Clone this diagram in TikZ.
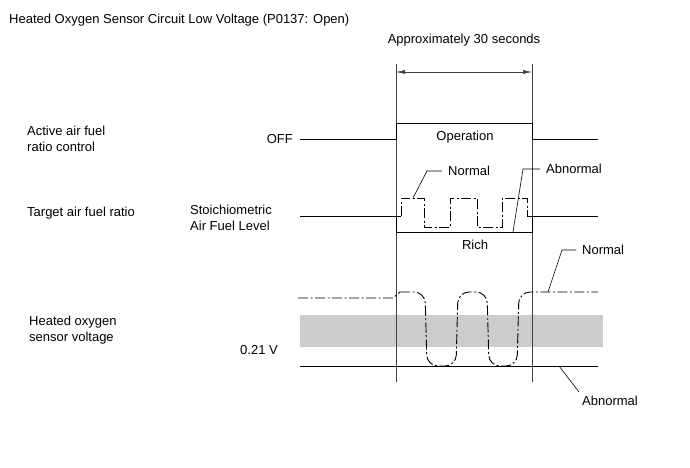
\documentclass[tikz,border=0pt]{standalone}
\usepackage{fontspec}
\setmainfont{Liberation Sans}
\usetikzlibrary{arrows.meta}
\tikzset{
  lbl/.style={inner sep=0pt, align=left},
  tag/.style={inner xsep=6pt, inner ysep=0pt, anchor=west},
  sig/.style={line width=0.9pt},
  dashdot/.style={line width=0.9pt, dash pattern=on 10pt off 2.5pt on 2pt off 2.5pt},
  grid/.style={line width=0.5pt, black!75},
  lead/.style={line width=0.6pt}
}
\begin{document}
\begin{tikzpicture}[x=1pt,y=-1pt,font=\fontsize{13}{16}\selectfont]
\useasboundingbox (0,0) rectangle (690,467);
\fill[black!20] (300,315) rectangle (603,347);
\node[lbl, anchor=west] (title) at (9,20) {Heated Oxygen Sensor Circuit Low Voltage (P0137: Open)};
\node[lbl] (approx) at (464,40) {Approximately 30 seconds};
\node[lbl, anchor=west] (activelbl) at (27,139) {Active air fuel\\ratio control};
\node[lbl, anchor=west] (targetlbl) at (27,213) {Target air fuel ratio};
\node[lbl, anchor=west] (sensorlbl) at (29,330) {Heated oxygen\\sensor voltage};
\node[lbl, anchor=east] (offlbl) at (293,139) {OFF};
\node[lbl, anchor=west] (stoichlbl) at (190,218) {Stoichiometric\\Air Fuel Level};
\node[lbl, anchor=west] (voltlbl) at (240,350) {0.21 V};
\node[lbl] (oplbl) at (465,137) {Operation};
\node[lbl] (richlbl) at (475,245) {Rich};
\node[tag] (normal1) at (442,171) {Normal};
\node[tag] (abnormal1) at (540,169) {Abnormal};
\node[tag] (normal2) at (576,250) {Normal};
\node[lbl, anchor=north west] (abnormal2) at (582,396) {Abnormal};
\coordinate (gl0) at (396,64);
\coordinate (gl1) at (396,382);
\coordinate (gr0) at (532,64);
\coordinate (gr1) at (532,382);
\coordinate (al) at (396,72);
\coordinate (ar) at (532,72);
\draw[grid] (gl0) -- (gl1);
\draw[grid] (gr0) -- (gr1);
\draw[grid, {Latex[length=9pt,width=4pt]}-{Latex[length=9pt,width=4pt]}] (al) -- (ar);
\draw[sig] (300,139) -- (396,139) -- (396,123) -- (532,123) -- (532,139) -- (598,139);
\draw[sig] (300,216) -- (401,216);
\draw[sig] (396,216) -- (396,232) -- (532,232) -- (532,216);
\draw[sig] (527,216) -- (598,216);
\draw[dashdot] (401,216) -- (401,198) -- (424,198) -- (424,227) -- (450,227) -- (450,198) -- (477,198) -- (477,227) -- (502,227) -- (502,198) -- (527,198) -- (527,216);
\draw[sig] (300,366) -- (598,366);
\draw[dashdot] (298,298) -- (393,298) -- (400,292);
\draw[dashdot, rounded corners=11pt] (400,292) -- (425,292) -- (427,366) -- (456,366) -- (458,292) -- (487,292) -- (489,366) -- (517,366) -- (519,292) -- (598,292);
\coordinate (n1a) at (413,198);
\coordinate (n1b) at (427,171);
\coordinate (ab1a) at (513,232);
\coordinate (ab1b) at (523,169);
\coordinate (n2a) at (548,292);
\coordinate (n2b) at (562,250);
\coordinate (ab2a) at (559,366);
\draw[lead] (n1a) -- (n1b) -- (normal1.west);
\draw[lead] (ab1a) -- (ab1b) -- (abnormal1.west);
\draw[lead] (n2a) -- (n2b) -- (normal2.west);
\draw[lead] (ab2a) -- ([shift={(-3,-4)}]abnormal2.north west);
\end{tikzpicture}
\end{document}
